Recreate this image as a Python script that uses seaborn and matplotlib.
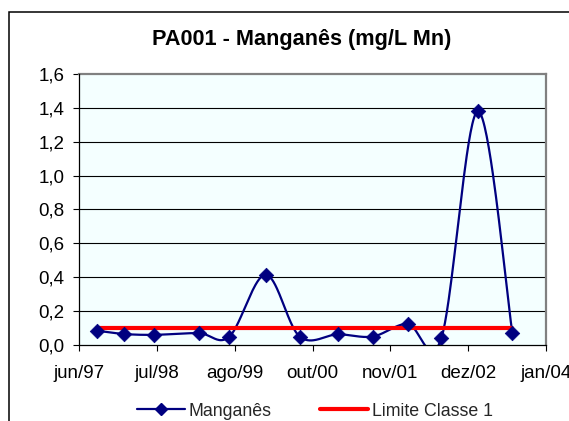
import numpy as np
import pandas as pd
import matplotlib
matplotlib.use("Agg")
import matplotlib.pyplot as plt
import matplotlib.dates as mdates
from matplotlib.lines import Line2D
from matplotlib.patches import Rectangle
import seaborn as sns

# Sampling dates and manganese concentrations (mg/L Mn)
datas = ["1997-09-14", "1998-02-03", "1998-07-08", "1999-02-20", "1999-07-28",
         "2000-01-30", "2000-07-23", "2001-02-05", "2001-08-02", "2002-01-29",
         "2002-07-21", "2003-01-25", "2003-07-21"]
manganes = [0.085, 0.065, 0.06, 0.07, 0.05, 0.415, 0.05, 0.063, 0.05, 0.125,
            0.04, 1.38, 0.072]
limite_classe1 = [0.1] * len(datas)

# Date axis
eixo_inicio = "1997-06-15"
passo_dias = 400
rotulos_x = ["jun/97", "jul/98", "ago/99", "out/00", "nov/01", "dez/02", "jan/04"]
ticks_y = [0.0, 0.2, 0.4, 0.6, 0.8, 1.0, 1.2, 1.4, 1.6]

sns.set_theme(style="white")
plt.rcParams["font.family"] = ["Liberation Sans", "DejaVu Sans"]


def suavizar(x, y, n=40):
    """Bezier smoothing through every point (Catmull-Rom tangents)."""
    pts = np.column_stack([x, y])
    partes = []
    for i in range(len(pts) - 1):
        p0 = pts[i - 1] if i > 0 else pts[i]
        p1, p2 = pts[i], pts[i + 1]
        p3 = pts[i + 2] if i + 2 < len(pts) else pts[i + 1]
        c1 = p1 + (p2 - p0) / 6.0
        c2 = p2 - (p3 - p1) / 6.0
        t = np.linspace(0, 1, n)[:, None]
        seg = ((1 - t) ** 3) * p1 + 3 * ((1 - t) ** 2) * t * c1 \
            + 3 * (1 - t) * (t ** 2) * c2 + (t ** 3) * p2
        partes.append(seg if i == 0 else seg[1:])
    return np.vstack(partes)


xnum = mdates.date2num(pd.to_datetime(datas))
df = pd.DataFrame({"x": xnum, "Manganês": manganes, "Limite": limite_classe1})
curva = suavizar(xnum, np.array(manganes))
df_curva = pd.DataFrame({"x": curva[:, 0], "y": curva[:, 1]})

fig = plt.figure(figsize=(5.69, 4.21), dpi=100)
fig.patch.set_facecolor("white")
ax = fig.add_axes([79 / 569, 1 - 345 / 421, (546 - 79) / 569, (345 - 74) / 421])
ax.set_facecolor("#F4FFFF")

azul = "#000080"
vermelho = "#FF0000"

sns.lineplot(data=df_curva, x="x", y="y", sort=False, estimator=None,
             color=azul, linewidth=1.6, ax=ax, zorder=3)
sns.lineplot(data=df, x="x", y="Limite", color=vermelho, linewidth=3.0,
             ax=ax, zorder=4)
sns.scatterplot(data=df, x="x", y="Manganês", marker="D", s=55, color=azul,
                edgecolor=azul, linewidth=0.5, ax=ax, zorder=5)

x0 = mdates.date2num(pd.Timestamp(eixo_inicio))
pos_x = [x0 + i * passo_dias for i in range(len(rotulos_x))]
ax.set_xlim(pos_x[0], pos_x[-1])
ax.set_xticks(pos_x)
ax.set_xticklabels(rotulos_x)
ax.set_ylim(0, 1.6)
ax.set_yticks(ticks_y)
ax.set_yticklabels([f"{v:.1f}".replace(".", ",") for v in ticks_y])
ax.set_xlabel("")
ax.set_ylabel("")

for v in ticks_y[1:-1]:
    ax.axhline(v, color="black", linewidth=0.8, zorder=1)

for lado in ("top", "right"):
    ax.spines[lado].set_color("#808080")
    ax.spines[lado].set_linewidth(1.6)
for lado in ("left", "bottom"):
    ax.spines[lado].set_color("black")
    ax.spines[lado].set_linewidth(0.9)
    ax.spines[lado].set_zorder(6)

ax.tick_params(axis="x", direction="out", length=4.5, width=0.8, color="black",
               pad=10, labelsize=13.5, labelcolor="black", bottom=True)
ax.tick_params(axis="y", direction="out", length=4.5, width=0.8, color="black",
               pad=6, labelsize=13.5, labelcolor="black", left=True)
for rot in ax.get_xticklabels():
    rot.set_clip_on(False)

fig.text(301.7 / 569, 1 - 39 / 421, "PA001 - Manganês (mg/L Mn)",
         ha="center", va="center", fontsize=15.6, fontweight="bold", color="black")

handles = [
    Line2D([0], [0], color=azul, linewidth=1.6, marker="D", markersize=6.5,
           markerfacecolor=azul, markeredgecolor=azul),
    Line2D([0], [0], color=vermelho, linewidth=3.0),
]
fig.legend(handles, ["Manganês", "Limite Classe 1"], ncol=2, frameon=False,
           loc="center", bbox_to_anchor=(315 / 569, 1 - 411 / 421),
           fontsize=12.8, handlelength=2.7, handletextpad=0.2,
           columnspacing=2.7, borderaxespad=0, borderpad=0)

fig.add_artist(Rectangle((9 / 569, -0.2), 2.0, 1.2 - 12 / 421,
                         transform=fig.transFigure, fill=False,
                         edgecolor="black", linewidth=1.1))

fig.savefig("out.png", dpi=100, facecolor="white")
